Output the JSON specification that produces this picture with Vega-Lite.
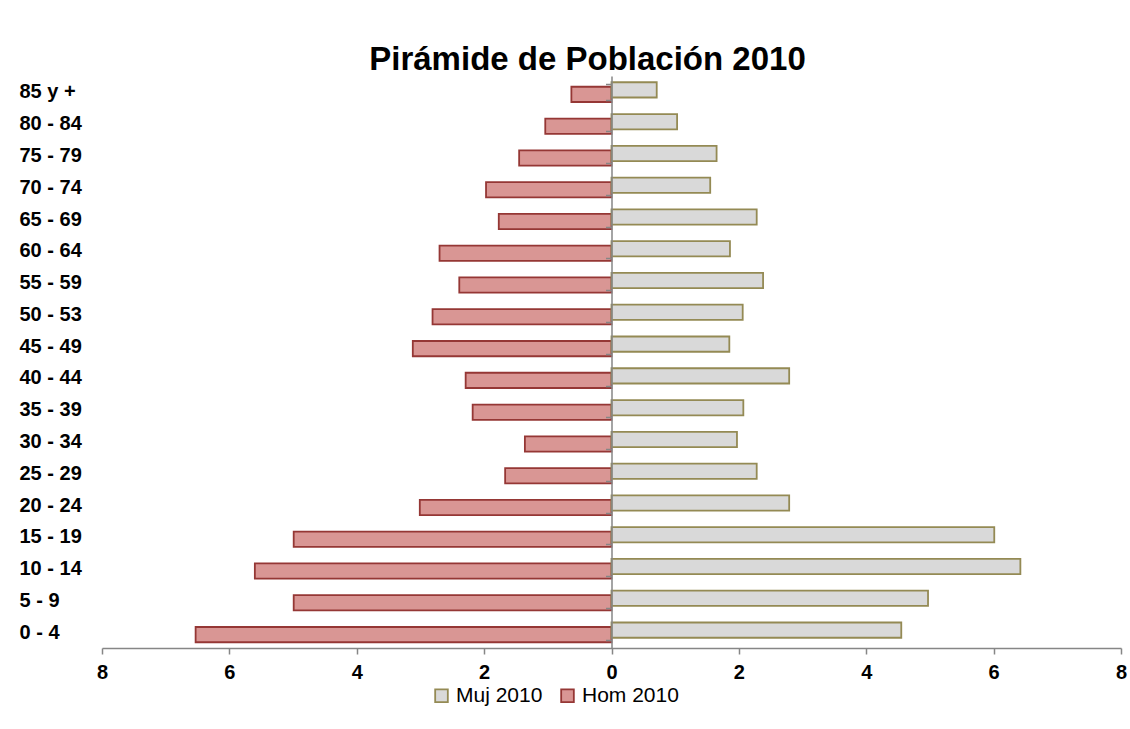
{
  "$schema": "https://vega.github.io/schema/vega-lite/v6.json",
  "autosize": "none",
  "width": 1019,
  "height": 572,
  "padding": {"left": 102, "top": 76, "right": 9, "bottom": 81},
  "background": "white",
  "title": {
    "text": "Pirámide de Población 2010",
    "font": "Liberation Sans",
    "fontSize": 33,
    "fontWeight": "bold",
    "color": "black",
    "anchor": "middle",
    "dx": -24,
    "baseline": "alphabetic",
    "offset": -37
  },
  "data": {
    "values": [
      {"age": "85 y  +", "sex": "Hom 2010", "value": -0.63},
      {"age": "80 - 84", "sex": "Hom 2010", "value": -1.04},
      {"age": "75 - 79", "sex": "Hom 2010", "value": -1.45},
      {"age": "70 - 74", "sex": "Hom 2010", "value": -1.97},
      {"age": "65 - 69", "sex": "Hom 2010", "value": -1.77},
      {"age": "60 - 64", "sex": "Hom 2010", "value": -2.70},
      {"age": "55 - 59", "sex": "Hom 2010", "value": -2.39},
      {"age": "50 - 53", "sex": "Hom 2010", "value": -2.81},
      {"age": "45 - 49", "sex": "Hom 2010", "value": -3.12},
      {"age": "40 - 44", "sex": "Hom 2010", "value": -2.29},
      {"age": "35 - 39", "sex": "Hom 2010", "value": -2.18},
      {"age": "30 - 34", "sex": "Hom 2010", "value": -1.36},
      {"age": "25 - 29", "sex": "Hom 2010", "value": -1.67},
      {"age": "20 - 24", "sex": "Hom 2010", "value": -3.01},
      {"age": "15 - 19", "sex": "Hom 2010", "value": -4.99},
      {"age": "10 - 14", "sex": "Hom 2010", "value": -5.60},
      {"age": "5 - 9", "sex": "Hom 2010", "value": -4.99},
      {"age": "0 - 4", "sex": "Hom 2010", "value": -6.53},
      {"age": "85 y  +", "sex": "Muj 2010", "value": 0.71},
      {"age": "80 - 84", "sex": "Muj 2010", "value": 1.03},
      {"age": "75 - 79", "sex": "Muj 2010", "value": 1.65},
      {"age": "70 - 74", "sex": "Muj 2010", "value": 1.55},
      {"age": "65 - 69", "sex": "Muj 2010", "value": 2.28},
      {"age": "60 - 64", "sex": "Muj 2010", "value": 1.86},
      {"age": "55 - 59", "sex": "Muj 2010", "value": 2.38},
      {"age": "50 - 53", "sex": "Muj 2010", "value": 2.06},
      {"age": "45 - 49", "sex": "Muj 2010", "value": 1.85},
      {"age": "40 - 44", "sex": "Muj 2010", "value": 2.79},
      {"age": "35 - 39", "sex": "Muj 2010", "value": 2.07},
      {"age": "30 - 34", "sex": "Muj 2010", "value": 1.97},
      {"age": "25 - 29", "sex": "Muj 2010", "value": 2.28},
      {"age": "20 - 24", "sex": "Muj 2010", "value": 2.79},
      {"age": "15 - 19", "sex": "Muj 2010", "value": 6.01},
      {"age": "10 - 14", "sex": "Muj 2010", "value": 6.42},
      {"age": "5 - 9", "sex": "Muj 2010", "value": 4.97},
      {"age": "0 - 4", "sex": "Muj 2010", "value": 4.55}
    ]
  },
  "encoding": {
    "y": {
      "field": "age",
      "type": "nominal",
      "sort": ["85 y  +", "80 - 84", "75 - 79", "70 - 74", "65 - 69", "60 - 64", "55 - 59", "50 - 53", "45 - 49", "40 - 44", "35 - 39", "30 - 34", "25 - 29", "20 - 24", "15 - 19", "10 - 14", "5 - 9", "0 - 4"],
      "scale": {"paddingInner": 0.52, "paddingOuter": 0.26},
      "axis": {
        "title": null,
        "orient": "left",
        "offset": -509.5,
        "domain": true,
        "domainColor": "#868686",
        "domainWidth": 1.5,
        "ticks": true,
        "tickBand": "extent",
        "tickSize": 6,
        "tickColor": "#868686",
        "tickWidth": 1.5,
        "labelAlign": "left",
        "labelPadding": 586.5,
        "labelFont": "Liberation Sans",
        "labelFontSize": 20,
        "labelFontWeight": "bold",
        "labelColor": "black",
        "zindex": 2
      }
    },
    "x": {
      "field": "value",
      "type": "quantitative",
      "scale": {"domain": [-8, 8], "nice": false, "zero": false},
      "axis": {
        "title": null,
        "values": [-8, -6, -4, -2, 0, 2, 4, 6, 8],
        "labelExpr": "abs(datum.value)",
        "labelFlush": false,
        "grid": false,
        "domainColor": "#868686",
        "domainWidth": 1.5,
        "tickColor": "#868686",
        "tickWidth": 1.5,
        "tickSize": 6,
        "labelPadding": 8,
        "labelFont": "Liberation Sans",
        "labelFontSize": 20,
        "labelFontWeight": "bold",
        "labelColor": "black",
        "labelBaseline": "top",
        "zindex": 2
      }
    },
    "fill": {
      "field": "sex",
      "type": "nominal",
      "scale": {"domain": ["Muj 2010", "Hom 2010"], "range": ["#D9D9D9", "#D99694"]},
      "legend": {
        "title": null,
        "orient": "none",
        "legendX": 329,
        "legendY": 609,
        "direction": "horizontal",
        "symbolType": "square",
        "symbolSize": 160,
        "symbolStrokeWidth": 1.8,
        "labelFont": "Liberation Sans",
        "labelFontSize": 21,
        "labelColor": "black",
        "labelOffset": 4,
        "columnPadding": 14
      }
    },
    "stroke": {
      "field": "sex",
      "type": "nominal",
      "scale": {"domain": ["Muj 2010", "Hom 2010"], "range": ["#948A54", "#953735"]},
      "legend": null
    }
  },
  "layer": [
    {
      "transform": [{"filter": "datum.sex == 'Hom 2010'"}],
      "mark": {"type": "bar", "strokeWidth": 1.8, "yOffset": 2.5}
    },
    {
      "transform": [{"filter": "datum.sex == 'Muj 2010'"}],
      "mark": {"type": "bar", "strokeWidth": 1.8, "yOffset": -2}
    }
  ],
  "config": {
    "view": {"stroke": null},
    "font": "Liberation Sans"
  }
}
